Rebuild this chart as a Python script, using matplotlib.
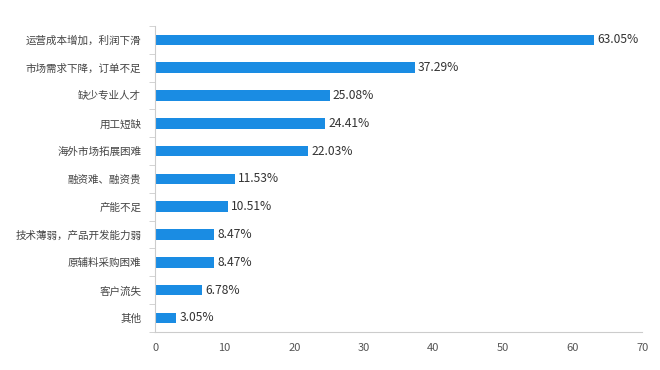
import numpy as np
import matplotlib
matplotlib.use("Agg")
import matplotlib.pyplot as plt

plt.rcParams['font.family'] = ['Noto Sans CJK SC', 'DejaVu Sans']

categories = ['运营成本增加，利润下滑', '市场需求下降，订单不足', '缺少专业人才', '用工短缺',
              '海外市场拓展困难', '融资难、融资贵', '产能不足', '技术薄弱，产品开发能力弱',
              '原辅料采购困难', '客户流失', '其他']
values = [63.05, 37.29, 25.08, 24.41, 22.03, 11.53, 10.51, 8.47, 8.47, 6.78, 3.05]
xticks = [0, 10, 20, 30, 40, 50, 60, 70]

fig = plt.figure(figsize=(6.6, 3.7), dpi=100)
ax = fig.add_axes([0.235, 0.103, 0.738, 0.827])

y = np.arange(len(categories))
ax.barh(y, values, height=0.38, color='#1a8ce3')
for yi, v in zip(y, values):
    ax.text(v + 0.45, yi, f'{v:.2f}%', va='center', ha='left', fontsize=8.7, color='#333333')

ax.set_ylim(len(categories) - 0.5, -0.5)
ax.set_xlim(0, 70)
ax.set_xticks(xticks)
ax.set_yticks(y)
ax.set_yticklabels(categories, fontsize=7.6, color='#444444')
ax.set_yticks(np.arange(-0.5, len(categories), 1), minor=True)
ax.tick_params(axis='y', which='major', length=0, pad=10)
ax.tick_params(axis='y', which='minor', length=4, color='#cccccc')
ax.tick_params(axis='x', length=0, labelsize=8, labelcolor='#555555', pad=8)

for s in ['top', 'right']:
    ax.spines[s].set_visible(False)
ax.spines['left'].set_color('#cccccc')
ax.spines['bottom'].set_color('#cccccc')

fig.savefig('out.png', dpi=100)
